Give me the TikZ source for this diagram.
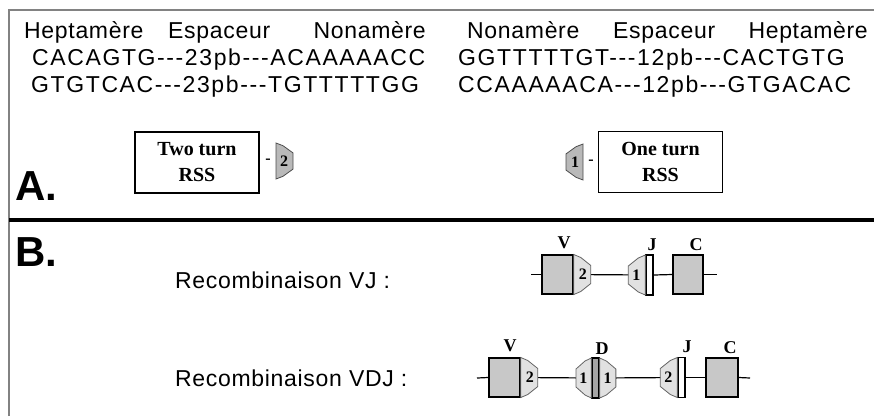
\documentclass[tikz,border=0pt]{standalone}
\usepackage{fontspec}
\setmainfont{Liberation Sans}
\newfontfamily\hdrfont[LetterSpace=3]{Liberation Sans}
\newfontfamily\seqfont[LetterSpace=7]{Liberation Sans}
\newfontfamily\rssfont{Liberation Serif}
\definecolor{segfill}{RGB}{200,200,200}
\definecolor{dfill}{RGB}{165,165,165}
\definecolor{hexfill}{RGB}{225,225,225}
\definecolor{hexAfill}{RGB}{185,185,185}
\definecolor{framegray}{RGB}{130,130,130}
\tikzset{
  rss/.pic={\path[pic actions] (0,-20) -- (7,-17) -- (17,-9) -- (17,9) -- (7,17) -- (0,20) -- cycle;}
}
\begin{document}
\begin{tikzpicture}[x=1pt,y=1pt,yscale=-1,xscale=1,
  hdr/.style={anchor=base west,inner sep=0pt,font=\hdrfont\fontsize{23}{27}\selectfont},
  seq/.style={anchor=base west,inner sep=0pt,font=\seqfont\fontsize{23}{27}\selectfont},
  part/.style={anchor=base west,inner sep=0pt,font=\bfseries\fontsize{42}{42}\selectfont},
  rssbox/.style={draw,line width=1.5pt,minimum width=124pt,minimum height=61pt,inner sep=0pt,align=center,font=\rssfont\bfseries\fontsize{20}{26}\selectfont},
  num/.style={inner sep=0pt,font=\rssfont\bfseries\fontsize{16}{16}\selectfont},
  genelbl/.style={inner sep=0pt,font=\rssfont\bfseries\fontsize{18}{18}\selectfont},
  seg/.style={draw,line width=1.6pt,fill=segfill,minimum width=31pt,minimum height=39pt,inner sep=0pt},
  jseg/.style={draw,line width=1.4pt,fill=white,minimum width=7pt,minimum height=40pt,inner sep=0pt},
  dna/.style={line width=1.2pt},
  hexA/.style={draw=black!70,fill=hexAfill,line width=0.8pt},
  hexB/.style={draw=black!60,fill=hexfill,line width=0.8pt}]
\useasboundingbox (0,0) rectangle (874,416);

% frame
\draw [framegray,line width=1.3pt] (9,416) -- (9,10) -- (874,10);
\draw [line width=4.5pt] (9,220) -- (874,220);

% Text Node: headers
\node [hdr] (hepL) at (24,38) {Heptamère};
\node [hdr] (espL) at (168,38) {Espaceur};
\node [hdr,anchor=base east] (nonL) at (426,38) {Nonamère};
\node [hdr] (nonR) at (467,38) {Nonamère};
\node [hdr] (espR) at (613,38) {Espaceur};
\node [hdr,anchor=base east] (hepR) at (868,38) {Heptamère};
% Text Node: sequences
\node [seq] (seqL1) at (32,65) {CACAGTG---23pb---ACAAAAACC};
\node [seq] (seqL2) at (31,92) {GTGTCAC---23pb---TGTTTTTGG};
\node [seq] (seqR1) at (458,65) {GGTTTTTGT---12pb---CACTGTG};
\node [seq] (seqR2) at (458,92) {CCAAAAACA---12pb---GTGACAC};

% A.
\node [part] (partA) at (15,200) {A.};
\node [rssbox] (twoturn) at (197,162.5) {Two turn\\RSS};
\node [num] (dashTwo) at (268,161) {-};
\pic [hexA,yscale=0.9] at (276,161) {rss};
\node [num] (numTwo) at (284,161) {2};
\node [rssbox] (oneturn) at (660.5,162) {One turn\\RSS};
\node [num] (dashOne) at (591,162) {-};
\pic [hexA,yscale=0.9,xscale=-1] at (583,162) {rss};
\node [num] (numOne) at (575,162) {1};

% B.
\node [part] (partB) at (15,266) {B.};
\node [hdr,anchor=west] (recVJ) at (175,280) {Recombinaison VJ :};
\node [hdr,anchor=west] (recVDJ) at (175,378) {Recombinaison VDJ :};

% VJ
\coordinate (vjL) at (531,274.5);
\coordinate (vjR) at (717,274.5);
\node [seg] (vjV) at (557.5,274.5) {};
\node [jseg] (vjJ) at (649.5,275) {};
\node [seg,minimum width=30pt] (vjC) at (688,274.5) {};
\draw [dna] (vjL) -- (vjV.west);
\draw [dna] (vjV.east) -- (vjJ.west);
\draw [dna] (vjJ.east) -- (vjC.west);
\draw [dna] (vjC.east) -- (vjR);
\pic [hexB] at (vjV.east) {rss};
\pic [hexB,xscale=-1] at (vjJ.west) {rss};
\path (vjV.east) ++(9,0) node [num] {2};
\path (vjJ.west) ++(-9,0) node [num] {1};
\node [genelbl] (lblVjV) at (564,243) {V};
\node [genelbl] (lblVjJ) at (652,245) {J};
\node [genelbl] (lblVjC) at (696,245) {C};

% VDJ
\coordinate (vdjL) at (477,378);
\coordinate (vdjR) at (750,378);
\node [seg] (vdjV) at (504.5,377.5) {};
\node [jseg,fill=dfill] (vdjD) at (595.5,378) {};
\node [jseg] (vdjJ) at (681.5,377.5) {};
\node [seg,minimum width=32pt] (vdjC) at (722,377.5) {};
\draw [dna] (vdjL) -- (vdjV.west);
\draw [dna] (vdjV.east) -- (vdjD.west);
\draw [dna] (vdjD.east) -- (vdjJ.west);
\draw [dna] (vdjJ.east) -- (vdjC.west);
\draw [dna] (vdjC.east) -- (vdjR);
\pic [hexB] at (vdjV.east) {rss};
\pic [hexB,xscale=-0.9] at (vdjD.west) {rss};
\pic [hexB,xscale=0.95] at (vdjD.east) {rss};
\pic [hexB,xscale=-1] at (vdjJ.west) {rss};
\path (vdjV.east) ++(9,0) node [num] {2};
\path (vdjD.west) ++(-8,0) node [num] {1};
\path (vdjD.east) ++(8,0) node [num] {1};
\path (vdjJ.west) ++(-9,0) node [num] {2};
\node [genelbl] (lblVdjV) at (510,346) {V};
\node [genelbl] (lblVdjD) at (602,349) {D};
\node [genelbl] (lblVdjJ) at (687,347) {J};
\node [genelbl] (lblVdjC) at (730,348) {C};
\end{tikzpicture}
\end{document}
